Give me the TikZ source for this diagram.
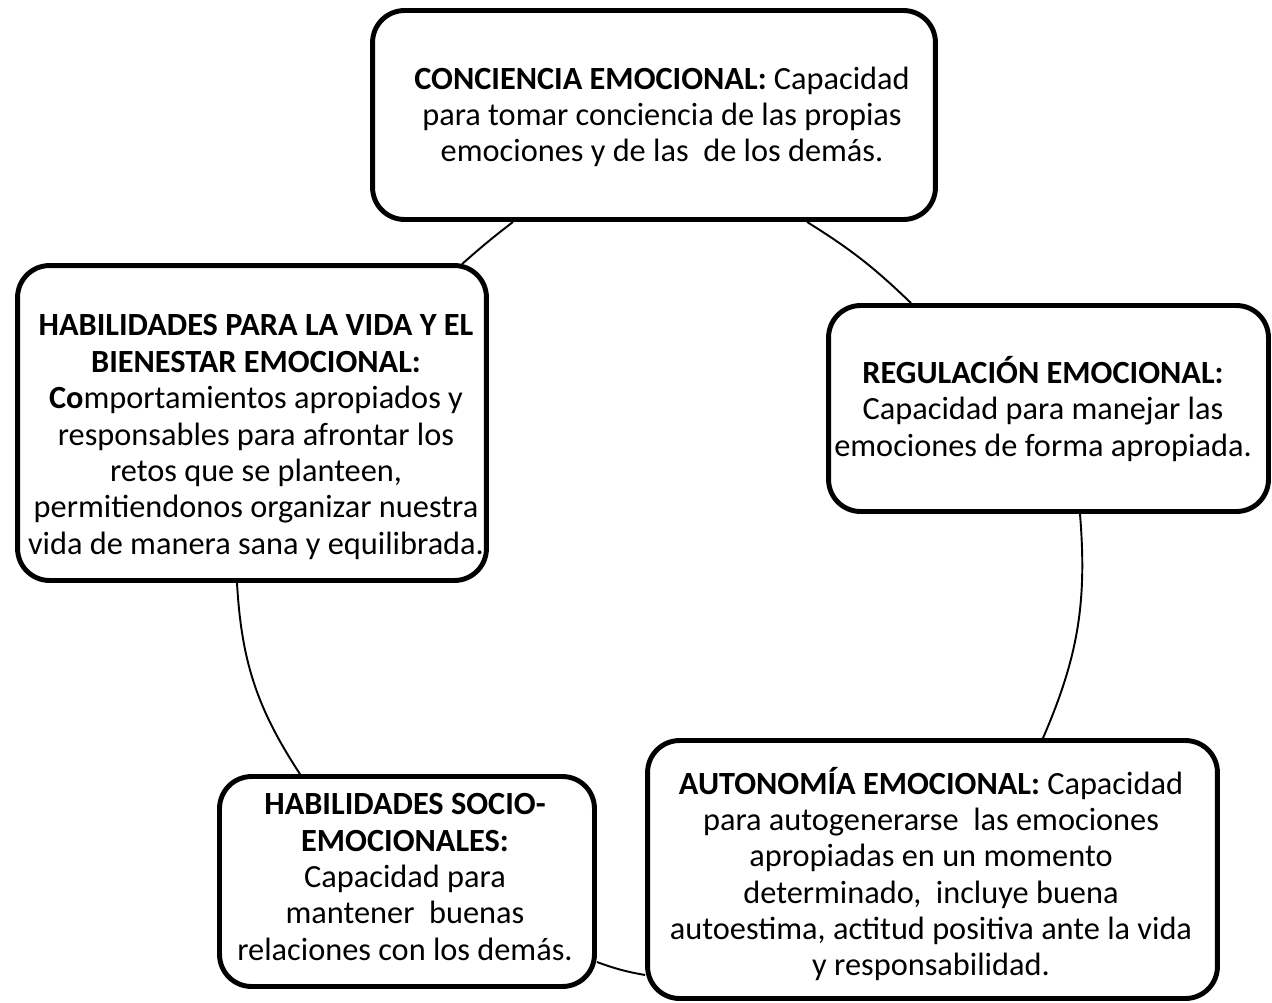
\documentclass[tikz,border=0pt]{standalone}
\usepackage{fontspec}
\setmainfont{Carlito}
\usetikzlibrary{calc}
\begin{document}
\begin{tikzpicture}[x=0.02cm,y=-0.02cm,
  box/.style={draw=black, line width=2.8pt, rounded corners=0.64cm, inner sep=0pt},
  txt/.style={align=center, inner sep=0pt, font=\fontsize{18.4}{20.7}\selectfont},
  link/.style={draw=black, line width=1.1pt}]
\useasboundingbox (0,0) rectangle (1272,1002);
% boxes
\node[box, minimum width=11.26cm, minimum height=4.18cm] (top) at (654,115) {};
\node[box, minimum width=8.8cm, minimum height=4.12cm] (right) at (1048.5,408.5) {};
\node[box, minimum width=11.4cm, minimum height=5.16cm] (br) at (932.5,869.5) {};
\node[box, minimum width=7.5cm, minimum height=4.2cm] (bl) at (407,881.5) {};
\node[box, minimum width=9.38cm, minimum height=6.3cm] (left) at (252,423) {};
% texts
\node[txt] (toptext) at (662,117) {\textbf{CONCIENCIA EMOCIONAL:} Capacidad\\para tomar conciencia de las propias\\emociones y de las\ \ de los demás.};
\node[txt] (righttext) at (1043,409) {\textbf{REGULACIÓN EMOCIONAL:}\\Capacidad para manejar las\\emociones de forma apropiada.};
\node[txt] (brtext) at (931,874) {\textbf{AUTONOMÍA EMOCIONAL:} Capacidad\\para autogenerarse\ \ las emociones\\apropiadas en un momento\\determinado,\ \ incluye buena\\autoestima, actitud positiva ante la vida\\y responsabilidad.};
\node[txt] (bltext) at (405,877) {\textbf{HABILIDADES SOCIO-}\\\textbf{EMOCIONALES:}\\Capacidad para\\mantener\ \ buenas\\relaciones con los demás.};
\node[txt] (lefttext) at (256,437) {\textbf{HABILIDADES PARA LA VIDA Y EL}\\\textbf{BIENESTAR EMOCIONAL:}\\\textbf{Co}mportamientos apropiados y\\responsables para afrontar los\\retos que se planteen,\\permitiendonos organizar nuestra\\vida de manera sana y equilibrada.};
% arcs
\draw[link] ($(top.south)+(153,0)$) to[bend left=6] ($(right.north)+(-137.5,0)$);
\draw[link] ($(right.south)+(31.5,0)$) to[bend left=14] ($(br.north)+(110.5,0)$);
\draw[link] ($(br.west)+(0,105.5)$) to[bend left=5] ($(bl.east)+(0,80.5)$);
\draw[link] ($(bl.north)+(-107,0)$) to[bend left=15] ($(left.south)+(-15,0)$);
\draw[link] ($(left.north)+(210,1)$) to[bend left=2] ($(top.south)+(-141,0)$);
\end{tikzpicture}
\end{document}
